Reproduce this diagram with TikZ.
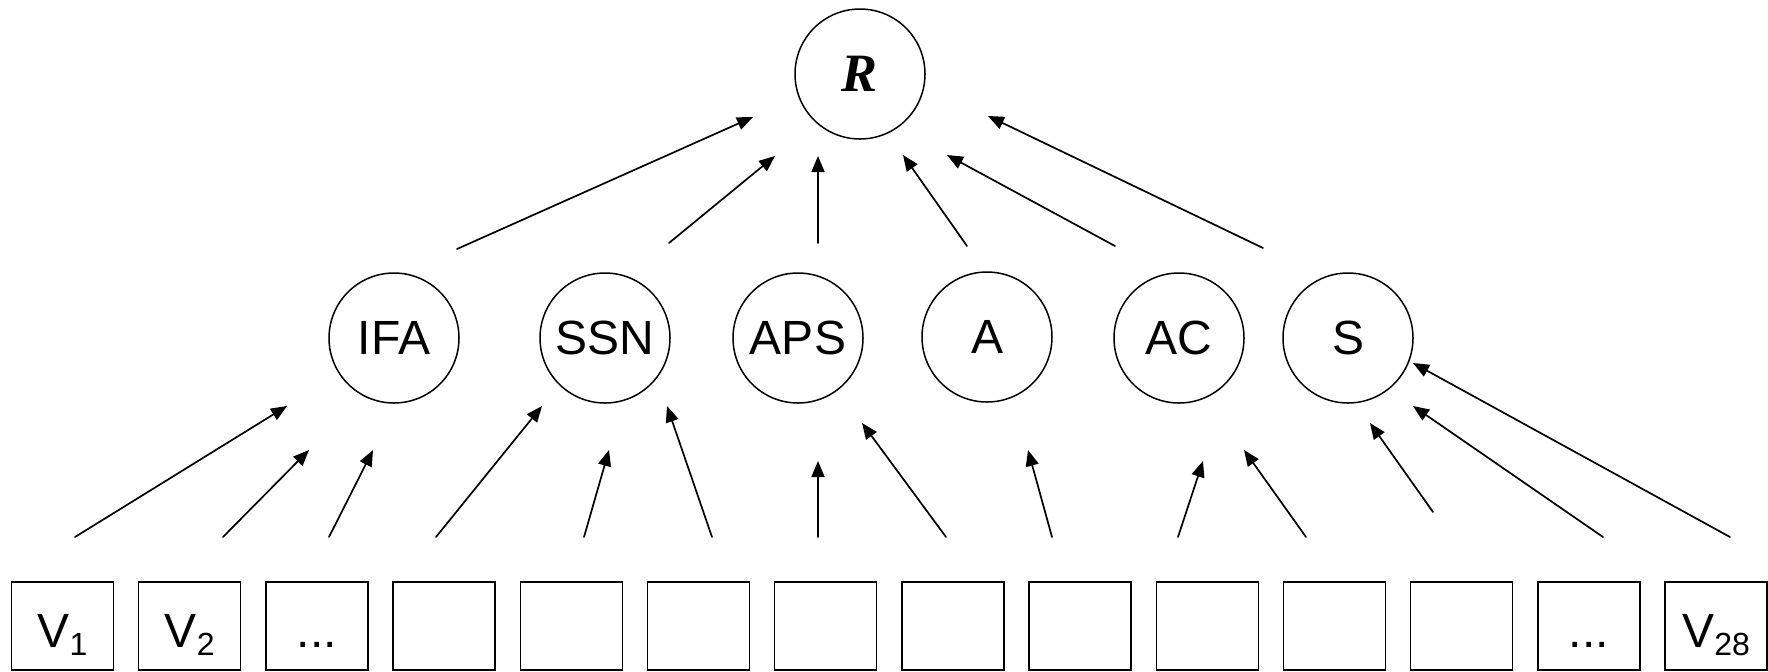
\documentclass[tikz,border=0pt]{standalone}
\usepackage{fontspec}
\setmainfont{Liberation Sans}
\newfontfamily\timesfont{Liberation Serif}
\usepackage{tkz-euclide}
\usetikzlibrary{arrows.meta}
\newcommand\vsub[1]{\raisebox{-4pt}{\fontsize{16}{16}\selectfont #1}}
\newcommand\threedots{...}

\begin{document}
\begin{tikzpicture}[x=0.5pt, y=-0.5pt,
    crit/.style={circle, draw, line width=0.75pt, minimum size=65pt, inner sep=0pt, font=\fontsize{24}{24}\selectfont},
    var/.style={rectangle, draw, line width=0.75pt, minimum width=51pt, minimum height=44pt, inner sep=0pt, text height=21pt, text depth=0pt, font=\fontsize{24}{24}\selectfont},
    vecarrow/.style={-{Triangle[length=8pt,width=6.5pt]}, line width=0.85pt}]
    \useasboundingbox (0,0) rectangle (1768,671);
    \node[crit, font=\timesfont\bfseries\itshape\fontsize{27}{27}\selectfont] (r) at (860,74) {R};
    \node[crit] (ifa) at (394,338) {IFA};
    \node[crit] (ssn) at (605,338) {SSN};
    \node[crit] (aps) at (798,338) {APS};
    \node[crit] (a) at (987,337) {A};
    \node[crit] (ac) at (1179,338) {AC};
    \node[crit] (s) at (1348,338) {S};
    \foreach \i/\lab in {1/{V\vsub{1}},2/{V\vsub{2}},3/{\threedots},4/{},5/{},6/{},7/{},8/{},9/{},10/{},11/{},12/{},13/{\threedots},14/{V\vsub{28}}}
        \node[var] (v\i) at ({62.5+127.2*(\i-1)},626) {\lab};
    % variables -> criteria
    \tkzDefPoints{75/537/A1,223/537/A2,329/537/A3,436/537/A4,584/537/A5,712/537/A6,818/537/A7,
        946/537/A8,1052/537/A9,1178/537/A10,1306/537/A11,1433/512/A12,1603/537/A13,1730/537/A14}
    \tkzDefPoints{287/406/B1,309/450/B2,373/450/B3,542/406/B4,609/450/B5,667/406/B6,818/461/B7,
        862/423/B8,1028/450/B9,1203/461/B10,1244/450/B11,1370/423/B12,1413/406/B13,1413/363/B14}
    \tkzDrawSegments[vecarrow](A1,B1 A2,B2 A3,B3 A4,B4 A5,B5 A6,B6 A7,B7 A8,B8 A9,B9 A10,B10 A11,B11 A12,B12 A13,B13 A14,B14)
    % criteria -> R
    \tkzDefPoints{457/249/C1,669/243/C2,818/243/C3,967/246/C4,1115/246/C5,1263/248/C6}
    \tkzDefPoints{753/117/D1,775/156/D2,818/156/D3,903/155/D4,947/155/D5,988/116/D6}
    \tkzDrawSegments[vecarrow](C1,D1 C2,D2 C3,D3 C4,D4 C5,D5 C6,D6)
\end{tikzpicture}
\end{document}
